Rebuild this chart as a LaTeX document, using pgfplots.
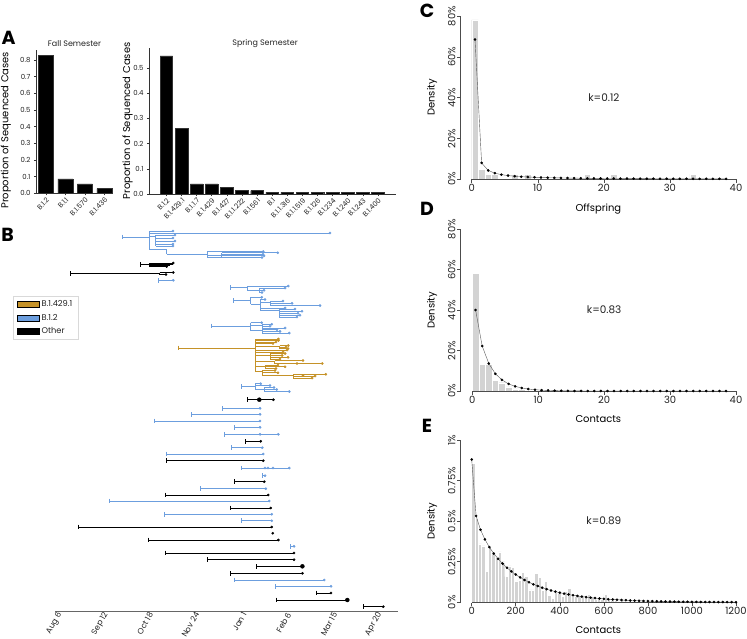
\documentclass[border=0pt]{standalone}
\usepackage{fontspec}
\setmainfont{Poppins}
\usepackage{pgfplots}
\pgfplotsset{compat=1.18}
\definecolor{lblue}{RGB}{108,158,222}
\definecolor{gold}{RGB}{197,146,40}
\definecolor{hgray}{RGB}{211,211,211}
\definecolor{txt}{RGB}{35,35,35}
\newcommand{\fs}[1]{\fontsize{#1}{#1}\selectfont}
\pgfplotsset{
  aax/.style={
    scale only axis,
    axis x line*=bottom, axis y line*=left,
    axis line style={black!80, line width=0.5bp},
    tick align=outside, major tick length=2bp,
    tick style={black!80, line width=0.4bp},
    ticklabel style={font=\fs{7}, text=txt},
    xticklabel style={rotate=45, anchor=north east, inner sep=1bp},
    title style={font=\fs{8}, text=txt, anchor=center},
    label style={font=\fs{7.8}, text=txt},
  },
  rax/.style={
    scale only axis, width=275.3bp,
    axis x line*=bottom, axis y line*=left,
    axis line style={draw=none},
    tick align=outside, major tick length=3.5bp,
    tick style={black!70, line width=0.5bp},
    ticklabel style={font=\fs{10}, text=txt},
    yticklabel style={rotate=90, anchor=south, inner sep=1.5bp},
    xticklabel style={inner sep=1.5bp},
    /pgf/number format/assume math mode=true,
    /pgf/number format/1000 sep={},
    label style={font=\fs{10.3}, text=txt},
    every axis y label/.style={at={(axis description cs:-0.104,0.5)}, rotate=90, anchor=center},
    clip=false,
  },
  hist/.style={ybar interval, fill=hgray, draw=white, line width=0.4bp},
  fitp/.style={black!65, line width=0.4bp, mark=*, mark size=1.1bp, mark options={black, solid}},
  seg/.style={forget plot, no markers, line width=1bp},
  roots/.style={forget plot, only marks, mark=|, mark size=2.3bp, mark options={line width=1bp}},
  tips/.style={forget plot, only marks, mark=*, mark size=1.15bp},
}
\begin{document}
\begin{tikzpicture}
\useasboundingbox (0,0) rectangle (747bp,-639bp);

% ---------------- Panel A: Fall ----------------
\begin{axis}[aax,
  at={(36bp,-193.3bp)}, anchor=south west,
  width=77bp, height=143.3bp,
  xmin=-0.51, xmax=3.44, ymin=0, ymax=0.86,
  xtick={0,1,2,3}, xticklabels={B.1.2,B.1.1,B.1.570,B.1.436},
  ytick={0,0.1,0.2,0.3,0.4,0.5,0.6,0.7,0.8},
  yticklabels={0.0,0.1,0.2,0.3,0.4,0.5,0.6,0.7,0.8},
  title={Fall Semester}, title style={at={(axis description cs:0.5,1)}, yshift=0.7bp},
  ylabel={Proportion of Sequenced Cases},
  every axis y label/.style={at={(axis description cs:-0.39,0.44)}, rotate=90, anchor=center},
]
\addplot[ybar, bar width=0.77, fill=black, draw=black!80] coordinates {(0,0.83) (1,0.086) (2,0.057) (3,0.028)};
\end{axis}

% ---------------- Panel A: Spring ----------------
\begin{axis}[aax,
  at={(149bp,-194bp)}, anchor=south west,
  width=247bp, height=146bp,
  xmin=-1.15, xmax=15.2, ymin=0, ymax=0.578,
  xtick={0,1,...,14},
  xticklabels={B.1.2,B.1.429.1,B.1.1.7,B.1.429,B.1.427,B.1.1.222,B.1.561,B.1,B.1.1.316,B.1.1.519,B.1.126,B.1.234,B.1.240,B.1.243,B.1.400},
  ytick={0,0.1,0.2,0.3,0.4,0.5},
  yticklabels={0.0,0.1,0.2,0.3,0.4,0.5},
  title={Spring Semester}, title style={at={(axis description cs:0.47,1)}, yshift=-2bp},
  ylabel={Proportion of Sequenced Cases},
  every axis y label/.style={at={(axis description cs:-0.087,0.5)}, rotate=90, anchor=center},
]
\addplot[ybar, bar width=0.83, fill=black, draw=black!80] coordinates {
 (0,0.547) (1,0.26) (2,0.04) (3,0.04) (4,0.0267) (5,0.0133) (6,0.0133) (7,0.0067)
 (8,0.0067) (9,0.0067) (10,0.0067) (11,0.0067) (12,0.0067) (13,0.0067) (14,0.0067)};
\end{axis}

% ---------------- Panel B: tree ----------------
\begin{axis}[
  scale only axis,
  at={(55bp,-611.7bp)}, anchor=south west,
  width=343bp, height=386.7bp,
  xmin=-4.8, xmax=270.7, ymin=-611.7, ymax=-225,
  axis x line*=bottom, axis y line=none,
  axis line style={black!60, line width=0.6bp},
  xtick={0,37,73,110,148,184,221,257},
  xticklabels={Aug 6,Sep 12,Oct 18,Nov 24,Jan 1,Feb 6,Mar 15,Apr 20},
  major tick length=0pt,
  xticklabel style={rotate=60, anchor=east, font=\fs{8}, text=txt, inner sep=1.5bp},
  unbounded coords=jump, clip=false,
  legend style={at={(axis description cs:-0.1224,0.8164)}, anchor=north west,
    draw=black!15, font=\fs{8.3}, text=txt, inner xsep=4bp, inner ysep=2.5bp,
    row sep=1.8bp, cells={anchor=west}},
  legend image code/.code={\fill[#1] (0bp,-3bp) rectangle (22bp,3bp);},
]
\addlegendimage{fill=gold}\addlegendentry{B.1.429.1\hspace{16bp}}
\addlegendimage{fill=lblue}\addlegendentry{B.1.2}
\addlegendimage{fill=black}\addlegendentry{Other}

% blue segments
\addplot[seg, lblue] coordinates {
(49.1,-237)(70.9,-237)(nan,nan)
(70.9,-231)(70.9,-249)(nan,nan)
(70.9,-231)(90.0,-231)(nan,nan)
(70.9,-233)(216.1,-233)(nan,nan)
(70.9,-236)(76.3,-236)(nan,nan)
(76.3,-235)(76.3,-246)(nan,nan)
(76.3,-235)(91.6,-235)(nan,nan)
(76.3,-238)(90.0,-238)(nan,nan)
(76.3,-241)(91.6,-241)(nan,nan)
(76.3,-244)(90.0,-244)(nan,nan)
(76.3,-246)(90.0,-246)(nan,nan)
(70.9,-249)(84.9,-249)(nan,nan)
(84.9,-249)(84.9,-254.3)(nan,nan)
(84.9,-254.3)(117.5,-254.3)(nan,nan)
(117.5,-251.5)(117.5,-257.5)(nan,nan)
(117.5,-251.5)(162.5,-251.5)(nan,nan)
(117.5,-255)(129.3,-255)(nan,nan)
(117.5,-257.5)(129.3,-257.5)(nan,nan)
(129.3,-252.8)(129.3,-257.5)(nan,nan)
(129.3,-252.8)(174.1,-252.8)(nan,nan)
(129.3,-254.3)(162.3,-254.3)(nan,nan)
(129.3,-255.8)(163.1,-255.8)(nan,nan)
(129.3,-257.5)(161.5,-257.5)(nan,nan)
(78.2,-280.3)(90.2,-280.3)(nan,nan)
(136.3,-287.3)(149.7,-287.3)(nan,nan)
(149.7,-286)(149.7,-290.5)(nan,nan)
(149.7,-286)(182.6,-286)(nan,nan)
(149.7,-290.5)(159.3,-290.5)(nan,nan)
(159.3,-288)(159.3,-292.5)(nan,nan)
(159.3,-288)(180.0,-288)(nan,nan)
(159.3,-290.3)(163.1,-290.3)(nan,nan)
(159.3,-292.5)(161.5,-292.5)(nan,nan)
(138.4,-300.7)(152.4,-300.7)(nan,nan)
(152.4,-297.3)(152.4,-304)(nan,nan)
(152.4,-297.3)(161.2,-297.3)(nan,nan)
(152.4,-304)(159.9,-304)(nan,nan)
(159.9,-299.5)(159.9,-310.7)(nan,nan)
(159.9,-299.5)(163.9,-299.5)(nan,nan)
(159.9,-302)(167.9,-302)(nan,nan)
(167.9,-301)(167.9,-305.5)(nan,nan)
(167.9,-301)(178.3,-301)(nan,nan)
(167.9,-303.3)(185.6,-303.3)(nan,nan)
(167.9,-305.5)(208.1,-305.5)(nan,nan)
(159.9,-308)(180.0,-308)(nan,nan)
(159.9,-310.7)(175.4,-310.7)(nan,nan)
(175.4,-309)(175.4,-317)(nan,nan)
(175.4,-309)(188.0,-309)(nan,nan)
(175.4,-311.3)(193.6,-311.3)(nan,nan)
(175.4,-313.3)(190.4,-313.3)(nan,nan)
(175.4,-315.2)(192.0,-315.2)(nan,nan)
(175.4,-317)(189.6,-317)(nan,nan)
(120.5,-326)(152.4,-326)(nan,nan)
(152.4,-322.7)(152.4,-330.7)(nan,nan)
(152.4,-322.7)(161.2,-322.7)(nan,nan)
(152.4,-325.5)(161.5,-325.5)(nan,nan)
(161.5,-324.3)(161.5,-328)(nan,nan)
(161.5,-324.3)(169.3,-324.3)(nan,nan)
(161.5,-326.2)(167.9,-326.2)(nan,nan)
(161.5,-328)(180.0,-328)(nan,nan)
(152.4,-330.7)(161.5,-330.7)(nan,nan)
(161.5,-329.7)(161.5,-333)(nan,nan)
(161.5,-329.7)(173.5,-329.7)(nan,nan)
(161.5,-331.4)(175.9,-331.4)(nan,nan)
(161.5,-333)(183.4,-333)(nan,nan)
(145.2,-386.3)(155.9,-386.3)(nan,nan)
(155.9,-383.7)(155.9,-389.5)(nan,nan)
(155.9,-383.7)(160.4,-383.7)(nan,nan)
(155.9,-385.5)(167.9,-385.5)(nan,nan)
(155.9,-389.5)(163.1,-389.5)(nan,nan)
(163.1,-387.5)(163.1,-391.5)(nan,nan)
(163.1,-387.5)(171.1,-387.5)(nan,nan)
(163.1,-389.5)(173.3,-389.5)(nan,nan)
(163.1,-391.5)(183.4,-391.5)(nan,nan)
(129.9,-408.3)(159.9,-408.3)(nan,nan)
(105.0,-414.3)(159.9,-414.3)(nan,nan)
(75.0,-421)(159.9,-421)(nan,nan)
(139.0,-427.3)(159.9,-427.3)(nan,nan)
(131.0,-434.3)(174.6,-434.3)(nan,nan)
(137.1,-447.7)(161.7,-447.7)(nan,nan)
(84.4,-454)(162.5,-454)(nan,nan)
(144.6,-468)(183.4,-468)(nan,nan)
(161.5,-475.7)(163.9,-475.7)(nan,nan)
(112.2,-488.7)(164.5,-488.7)(nan,nan)
(38.6,-501)(167.3,-501)(nan,nan)
(83.0,-514.3)(169.3,-514.3)(nan,nan)
(145.2,-520.7)(169.3,-520.7)(nan,nan)
(184.0,-546.3)(187.2,-546.3)(nan,nan)
(139.2,-580)(211.5,-580)(nan,nan)
(172.7,-586.3)(216.9,-586.3)
};
\addplot[roots, lblue] coordinates {(49.1,-237)(78.2,-280.3)(136.3,-287.3)(138.4,-300.7)(120.5,-326)(145.2,-386.3)(129.9,-408.3)(105.0,-414.3)(75.0,-421)(139.0,-427.3)(131.0,-434.3)(137.1,-447.7)(84.4,-454)(144.6,-468)(161.5,-475.7)(112.2,-488.7)(38.6,-501)(83.0,-514.3)(145.2,-520.7)(184.0,-546.3)(139.2,-580)(172.7,-586.3)};
\addplot[tips, lblue] coordinates {(90,-231)(216.1,-233)(91.6,-235)(90,-238)(91.6,-241)(90,-244)(90,-246)(162.5,-251.5)(174.1,-252.8)(162.3,-254.3)(163.1,-255.8)(161.5,-257.5)
(90.2,-280.3)
(182.6,-286)(180.0,-288)(163.1,-290.3)(161.5,-292.5)
(161.2,-297.3)(163.9,-299.5)(178.3,-301)(185.6,-303.3)(208.1,-305.5)(180.0,-308)(188.0,-309)(193.6,-311.3)(190.4,-313.3)(192.0,-315.2)(189.6,-317)
(161.2,-322.7)(169.3,-324.3)(167.9,-326.2)(180.0,-328)(173.5,-329.7)(175.9,-331.4)(183.4,-333)
(160.4,-383.7)(167.9,-385.5)(171.1,-387.5)(173.3,-389.5)(183.4,-391.5)
(159.9,-408.3)(159.9,-414.3)(159.9,-421)(159.9,-427.3)(159.9,-434.3)(174.6,-434.3)(161.7,-447.7)(162.5,-454)(163.9,-468)(166.3,-468)(170.3,-468)(183.4,-468)(163.9,-475.7)(164.5,-488.7)(167.3,-501)(169.3,-514.3)(169.3,-520.7)(187.2,-546.3)(211.5,-580)(216.9,-586.3)};

% gold segments
\addplot[seg, gold] coordinates {
(94.2,-348)(155.9,-348)(nan,nan)
(155.9,-339)(155.9,-371.5)(nan,nan)
(155.9,-339)(174.6,-339)(nan,nan)
(155.9,-340.5)(174.6,-340.5)(nan,nan)
(155.9,-342)(172.7,-342)(nan,nan)
(155.9,-343.5)(170.3,-343.5)(nan,nan)
(155.9,-346.5)(175.9,-346.5)(nan,nan)
(175.9,-345.5)(175.9,-348.5)(nan,nan)
(175.9,-345.5)(182.6,-345.5)(nan,nan)
(175.9,-347)(180.8,-347)(nan,nan)
(175.9,-348.5)(182.4,-348.5)(nan,nan)
(155.9,-350)(181.6,-350)(nan,nan)
(155.9,-352)(178.4,-352)(nan,nan)
(155.9,-355)(167.9,-355)(nan,nan)
(167.9,-353.5)(167.9,-359)(nan,nan)
(167.9,-353.5)(180.0,-353.5)(nan,nan)
(167.9,-355.5)(177.6,-355.5)(nan,nan)
(167.9,-357.3)(182.4,-357.3)(nan,nan)
(167.9,-359)(175.9,-359)(nan,nan)
(155.9,-361.5)(171.9,-361.5)(nan,nan)
(171.9,-360.5)(171.9,-363.5)(nan,nan)
(171.9,-360.5)(194.4,-360.5)(nan,nan)
(171.9,-363.5)(209.9,-363.5)(nan,nan)
(155.9,-366)(163.9,-366)(nan,nan)
(163.9,-365)(163.9,-368.5)(nan,nan)
(163.9,-365)(174.3,-365)(nan,nan)
(163.9,-366.8)(180.0,-366.8)(nan,nan)
(163.9,-368.5)(172.7,-368.5)(nan,nan)
(155.9,-371.5)(161.5,-371.5)(nan,nan)
(161.5,-370.5)(161.5,-375)(nan,nan)
(161.5,-370.5)(171.9,-370.5)(nan,nan)
(161.5,-372.8)(174.3,-372.8)(nan,nan)
(161.5,-375)(186.6,-375)(nan,nan)
(186.6,-374.3)(186.6,-378)(nan,nan)
(186.6,-374.3)(212.7,-374.3)(nan,nan)
(186.6,-376)(204.1,-376)(nan,nan)
(186.6,-378)(201.7,-378)
};
\addplot[roots, gold] coordinates {(94.2,-348)};
\addplot[tips, gold] coordinates {(174.6,-339)(174.6,-340.5)(172.7,-342)(170.3,-343.5)(182.6,-345.5)(180.8,-347)(182.4,-348.5)(181.6,-350)(178.4,-352)(180.0,-353.5)(177.6,-355.5)(182.4,-357.3)(175.9,-359)(194.4,-360.5)(209.9,-363.5)(189.6,-363.5)(174.3,-365)(180.0,-366.8)(172.7,-368.5)(171.9,-370.5)(174.3,-372.8)(212.7,-374.3)(204.1,-376)(201.7,-378)(194.4,-375.5)};

% black segments
\addplot[seg, black] coordinates {
(63.5,-264.7)(70.9,-264.7)(nan,nan)
(70.9,-263)(70.9,-266.5)(nan,nan)
(70.9,-263)(90.2,-263)(nan,nan)
(70.9,-264.2)(90.0,-264.2)(nan,nan)
(70.9,-265.4)(87.6,-265.4)(nan,nan)
(70.9,-266.5)(84.9,-266.5)(nan,nan)
(7.8,-273.3)(79.5,-273.3)(nan,nan)
(79.5,-272.5)(79.5,-274.5)(nan,nan)
(79.5,-272.5)(90.2,-272.5)(nan,nan)
(79.5,-274.5)(84.4,-274.5)(nan,nan)
(149.7,-399.7)(170.6,-399.7)(nan,nan)
(148.4,-441.3)(160.4,-441.3)(nan,nan)
(84.4,-460.7)(162.5,-460.7)(nan,nan)
(139.2,-481.7)(163.3,-481.7)(nan,nan)
(83.6,-495)(166.5,-495)(nan,nan)
(135.8,-508)(168.5,-508)(nan,nan)
(13.9,-527)(169.3,-527)(nan,nan)
(70.7,-540)(174.6,-540)(nan,nan)
(83.6,-553)(187.2,-553)(nan,nan)
(117.5,-559.7)(187.2,-559.7)(nan,nan)
(156.7,-566.3)(193.9,-566.3)(nan,nan)
(135.8,-573.3)(193.9,-573.3)(nan,nan)
(204.9,-593)(216.9,-593)(nan,nan)
(173.3,-600)(230.0,-600)(nan,nan)
(242.9,-606.7)(258.9,-606.7)
};
\addplot[roots, black] coordinates {(63.5,-264.7)(7.8,-273.3)(149.7,-399.7)(148.4,-441.3)(84.4,-460.7)(139.2,-481.7)(83.6,-495)(135.8,-508)(13.9,-527)(70.7,-540)(83.6,-553)(117.5,-559.7)(156.7,-566.3)(135.8,-573.3)(204.9,-593)(173.3,-600)(242.9,-606.7)};
\addplot[tips, black] coordinates {(90.2,-263)(84.9,-266.5)(90.2,-272.5)(84.4,-274.5)(170.6,-399.7)(160.4,-441.3)(162.5,-460.7)(163.3,-481.7)(166.5,-495)(168.5,-508)(169.3,-527)(170.1,-533.3)(174.6,-540)(187.2,-553)(187.2,-559.7)(193.9,-573.3)(216.9,-593)(258.9,-606.7)};
\addplot[tips, black, mark size=2bp] coordinates {(159.3,-399.7)(193.9,-566.3)(230.0,-600)};
\end{axis}

% ---------------- Panel C ----------------
\begin{axis}[rax,
  at={(460.7bp,-179bp)}, anchor=south west, height=163bp,
  xmin=-1.665, xmax=40, ymin=0, ymax=80,
  xtick={0,10,20,30,40}, ytick={0,20,40,60,80},
  yticklabels={0\%,20\%,40\%,60\%,80\%},
  xlabel={Offspring}, ylabel={Density},
  every axis x label/.style={at={(axis description cs:0.5,-0.184)}, anchor=center},
]
\addplot[hist] coordinates {(0,78.05)(1,4.88)(2,2.44)(3,2.44)(4,0)(5,0)(6,2.44)(7,0)(8,2.44)(9,0)(10,0)(11,0)(12,0)(13,0)(14,0)(15,0)(16,0)(17,2.44)(18,0)(19,0)(20,0)(21,2.44)(22,0)(23,0)(24,0)(25,0)(26,0)(27,0)(28,0)(29,0)(30,0)(31,0)(32,0)(33,2.44)(34,0)};
\addplot[fitp] coordinates {(0.5,68.5)(1.5,7.87)(2.5,4.22)(3.5,2.85)(4.5,2.13)(5.5,1.68)(6.5,1.37)(7.5,1.15)(8.5,0.98)(9.5,0.84)(10.5,0.74)(11.5,0.65)(12.5,0.58)(13.5,0.51)(14.5,0.46)(15.5,0.42)(16.5,0.38)(17.5,0.34)(18.5,0.31)(19.5,0.28)(20.5,0.26)(21.5,0.24)(22.5,0.22)(23.5,0.20)(24.5,0.19)(25.5,0.17)(26.5,0.16)(27.5,0.15)(28.5,0.14)(29.5,0.13)(30.5,0.12)(31.5,0.11)(32.5,0.10)(33.5,0.09)(34.5,0.09)(35.5,0.08)(36.5,0.08)(37.5,0.07)(38.5,0.07)};
\draw[black!70, line width=0.5bp] (axis cs:0,0) -- (axis cs:40,0);
\draw[black!70, line width=0.5bp] (axis cs:-1.665,0) -- (axis cs:-1.665,80);
\node[font=\fs{10.5}, text=txt] at (axis cs:20,40) {k=0.12};
\end{axis}

% ---------------- Panel D ----------------
\begin{axis}[rax,
  at={(460.7bp,-391bp)}, anchor=south west, height=162bp,
  xmin=-1.76, xmax=40, ymin=0, ymax=80,
  xtick={0,10,20,30,40}, ytick={0,20,40,60,80},
  yticklabels={0\%,20\%,40\%,60\%,80\%},
  xlabel={Contacts}, ylabel={Density},
  every axis x label/.style={at={(axis description cs:0.5,-0.173)}, anchor=center},
]
\addplot[hist] coordinates {(0,58)(1,13.3)(2,13.3)(3,5.4)(4,4.1)(5,2.1)(6,1.0)(7,0.8)(8,0.6)(9,0.3)(10,0)};
\addplot[fitp] coordinates {(0.5,40)(1.5,22.2)(2.5,13.6)(3.5,8.5)(4.5,5.5)(5.5,3.5)(6.5,2.3)(7.5,1.5)(8.5,0.98)(9.5,0.64)(10.5,0.42)(11.5,0.28)(12.5,0.18)(13.5,0.12)(14.5,0.08)(15.5,0.05)(16.5,0.03)(17.5,0.02)(18.5,0.01)(19.5,0.01)(20.5,0)(21.5,0)(22.5,0)(23.5,0)(24.5,0)(25.5,0)(26.5,0)(27.5,0)(28.5,0)(29.5,0)(30.5,0)(31.5,0)(32.5,0)(33.5,0)(34.5,0)(35.5,0)(36.5,0)(37.5,0)(38.5,0)};
\draw[black!70, line width=0.5bp] (axis cs:0,0) -- (axis cs:40,0);
\draw[black!70, line width=0.5bp] (axis cs:-1.76,0) -- (axis cs:-1.76,80);
\node[font=\fs{10.5}, text=txt] at (axis cs:20,40) {k=0.83};
\end{axis}

% ---------------- Panel E ----------------
\begin{axis}[rax,
  at={(460.7bp,-602.3bp)}, anchor=south west, height=162.3bp,
  xmin=-49.9, xmax=1200, ymin=0, ymax=1,
  xtick={0,200,400,600,800,1000,1200}, ytick={0,0.25,0.5,0.75,1},
  yticklabels={0\%,0.25\%,0.5\%,0.75\%,1\%},
  xlabel={Contacts}, ylabel={Density},
  every axis x label/.style={at={(axis description cs:0.5,-0.171)}, anchor=center},
]
\addplot[hist] coordinates {(0,0.856)(15,0.52)(30,0.36)(45,0.347)(60,0.19)(75,0.345)(90,0.30)(105,0.28)(120,0.31)(135,0.25)(150,0.158)(165,0.224)(180,0.216)(195,0.127)(210,0.138)(225,0.183)(240,0.158)(255,0.076)(270,0.076)(285,0.18)(300,0.154)(315,0.076)(330,0.127)(345,0.045)(360,0.025)(375,0.06)(390,0.055)(405,0.035)(420,0.066)(435,0.086)(450,0.035)(465,0.039)(480,0.045)(495,0.04)(510,0.045)(525,0.05)(540,0.03)(555,0.02)(570,0.03)(585,0.02)(600,0.05)(615,0.02)(630,0.015)(645,0.01)(660,0.008)(675,0.01)(690,0.005)(705,0.005)(720,0)};
\addplot[fitp] coordinates {(0,0.88)(20,0.532)(40,0.447)(60,0.388)(80,0.340)(100,0.301)(120,0.268)(140,0.2385)(160,0.213)(180,0.1906)(200,0.1708)(220,0.1532)(240,0.1375)(260,0.1236)(280,0.1111)(300,0.1000)(320,0.0900)(340,0.0810)(360,0.0730)(380,0.0658)(400,0.0593)(420,0.0534)(440,0.0482)(460,0.0434)(480,0.0392)(500,0.0354)(520,0.0319)(540,0.0288)(560,0.0260)(580,0.0235)(600,0.0212)(620,0.0192)(640,0.0173)(660,0.0157)(680,0.0141)(700,0.0128)(720,0.0115)(740,0.0104)(760,0.0094)(780,0.0085)(800,0.0077)(820,0.0070)(840,0.0063)(860,0.0057)(880,0.0051)(900,0.0046)(920,0.0042)(940,0.0038)(960,0.0034)(980,0.0031)(1000,0.0028)(1020,0.0025)(1040,0.0023)(1060,0.0021)(1080,0.0019)(1100,0.0017)(1120,0.0015)(1140,0.0014)(1160,0.0013)(1180,0.0011)(1200,0.0010)};
\draw[black!70, line width=0.5bp] (axis cs:0,0) -- (axis cs:1200,0);
\draw[black!70, line width=0.5bp] (axis cs:-49.9,0) -- (axis cs:-49.9,1);
\node[font=\fs{10.5}, text=txt] at (axis cs:600,0.5) {k=0.89};
\end{axis}

% panel letters
\node[font=\fs{19}\bfseries, text=black] at (8.5bp,-37.5bp) {A};
\node[font=\fs{19}\bfseries, text=black] at (7.5bp,-235bp) {B};
\node[font=\fs{19}\bfseries, text=black] at (427bp,-11bp) {C};
\node[font=\fs{19}\bfseries, text=black] at (427bp,-209bp) {D};
\node[font=\fs{19}\bfseries, text=black] at (427bp,-426bp) {E};
\end{tikzpicture}
\end{document}
